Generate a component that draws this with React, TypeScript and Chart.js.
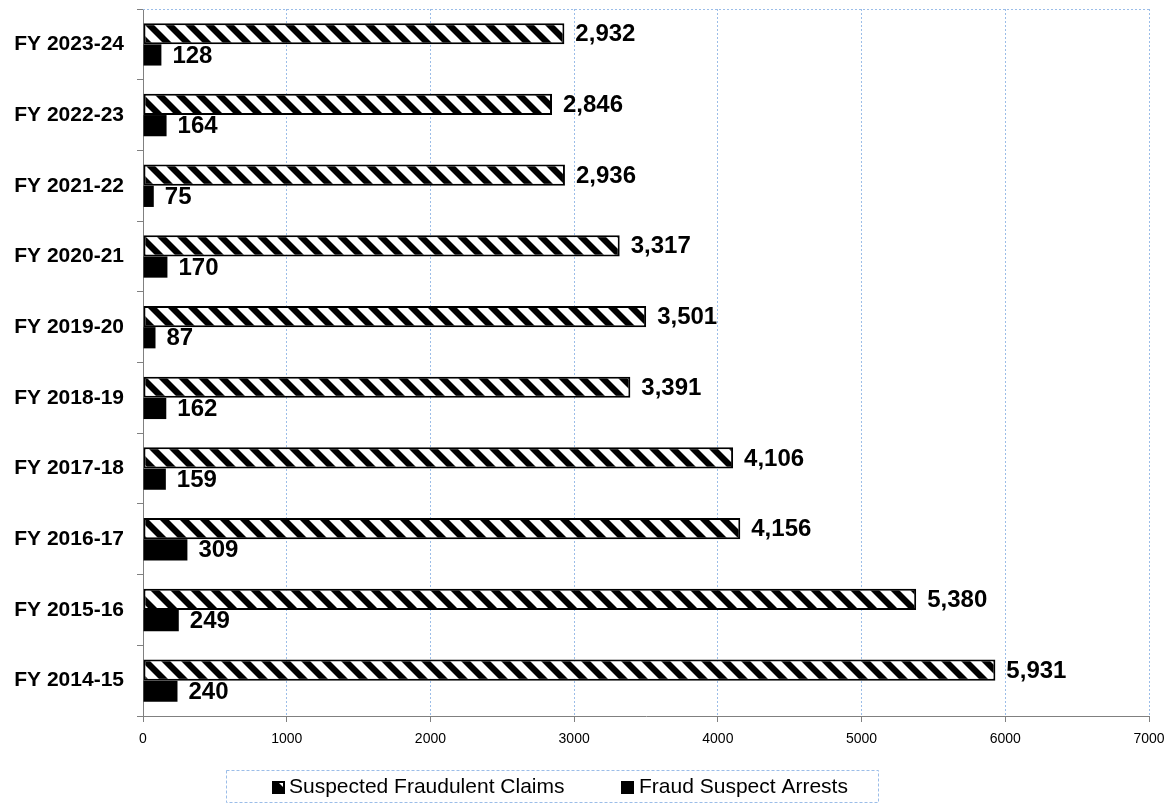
import React, { useEffect, useRef } from 'react';
import { Chart, registerables } from 'chart.js';

Chart.register(...registerables);

const categories = ['FY 2023-24', 'FY 2022-23', 'FY 2021-22', 'FY 2020-21', 'FY 2019-20', 'FY 2018-19', 'FY 2017-18', 'FY 2016-17', 'FY 2015-16', 'FY 2014-15'];
const claims = [2932, 2846, 2936, 3317, 3501, 3391, 4106, 4156, 5380, 5931];
const arrests = [128, 164, 75, 170, 87, 162, 159, 309, 249, 240];
const seriesNames = ['Suspected Fraudulent Claims', 'Fraud Suspect Arrests'];
const xMin = 0;
const xMax = 7000;
const xStep = 1000;

const FONT = "'Liberation Sans', Arial, sans-serif";
const GRID_BLUE = '#9bbde8';

function makeHatch(ctx: CanvasRenderingContext2D) {
  const c = document.createElement('canvas');
  c.width = 20;
  c.height = 20;
  const g = c.getContext('2d')!;
  g.fillStyle = '#ffffff';
  g.fillRect(0, 0, 20, 20);
  g.fillStyle = '#000000';
  for (const k of [-20, 0, 20]) {
    g.beginPath();
    g.moveTo(k, 0);
    g.lineTo(k + 9, 0);
    g.lineTo(k + 29, 20);
    g.lineTo(k + 20, 20);
    g.closePath();
    g.fill();
  }
  return ctx.createPattern(c, 'repeat')!;
}

const valueLabels = {
  id: 'valueLabels',
  afterDatasetsDraw(chart: any) {
    const ctx = chart.ctx;
    ctx.save();
    ctx.font = `bold 24px ${FONT}`;
    ctx.fillStyle = '#000';
    ctx.textBaseline = 'middle';
    ctx.textAlign = 'left';
    chart.data.datasets.forEach((ds: any, di: number) => {
      const meta = chart.getDatasetMeta(di);
      meta.data.forEach((bar: any, i: number) => {
        const v = ds.data[i];
        ctx.fillText(Number(v).toLocaleString('en-US'), bar.x + 11, bar.y + 1);
      });
    });
    ctx.restore();
  },
};

const topBorder = {
  id: 'topBorder',
  beforeDatasetsDraw(chart: any) {
    const { ctx, chartArea } = chart;
    ctx.save();
    ctx.strokeStyle = GRID_BLUE;
    ctx.lineWidth = 1;
    ctx.setLineDash([2, 2]);
    ctx.beginPath();
    ctx.moveTo(chartArea.left, Math.round(chartArea.top) + 0.5);
    ctx.lineTo(chartArea.right, Math.round(chartArea.top) + 0.5);
    ctx.stroke();
    ctx.restore();
  },
};

const boxedLegend = {
  id: 'boxedLegend',
  afterDraw(chart: any) {
    const ctx = chart.ctx;
    ctx.save();
    ctx.strokeStyle = GRID_BLUE;
    ctx.lineWidth = 1;
    ctx.setLineDash([3, 2]);
    ctx.strokeRect(226.5, 770.5, 652, 32);
    ctx.setLineDash([]);
    const cy = 787;
    ctx.fillStyle = '#000';
    ctx.fillRect(272, cy - 6, 13, 13);
    ctx.fillStyle = '#fff';
    ctx.fillRect(274, cy - 4, 9, 9);
    ctx.fillStyle = '#000';
    ctx.beginPath();
    ctx.moveTo(274, cy - 4);
    ctx.lineTo(279, cy - 4);
    ctx.lineTo(283, cy);
    ctx.lineTo(283, cy + 5);
    ctx.lineTo(274, cy + 5);
    ctx.closePath();
    ctx.fill();
    ctx.font = `21px ${FONT}`;
    ctx.textBaseline = 'middle';
    ctx.textAlign = 'left';
    ctx.fillText(seriesNames[0], 289, cy);
    ctx.fillRect(621, cy - 6, 13, 13);
    ctx.fillText(seriesNames[1], 639, cy);
    ctx.restore();
  },
};

export default function App() {
  const ref = useRef<HTMLCanvasElement | null>(null);
  useEffect(() => {
    const canvas = ref.current!;
    const ctx = canvas.getContext('2d')!;
    const hatch = makeHatch(ctx);
    const chart = new Chart(canvas, {
      type: 'bar',
      data: {
        labels: categories,
        datasets: [
          {
            label: seriesNames[0],
            data: claims,
            backgroundColor: hatch as any,
            borderColor: '#000',
            borderWidth: 2,
            borderSkipped: false,
            categoryPercentage: 0.6,
            barPercentage: 1.0,
          },
          {
            label: seriesNames[1],
            data: arrests,
            backgroundColor: '#000',
            borderWidth: 0,
            categoryPercentage: 0.6,
            barPercentage: 1.0,
          },
        ],
      },
      options: {
        indexAxis: 'y',
        animation: false,
        responsive: false,
        maintainAspectRatio: false,
        layout: { padding: { top: 9, right: 24, bottom: 48, left: 0 } },
        plugins: {
          legend: { display: false },
          tooltip: { enabled: false },
        },
        scales: {
          x: {
            min: xMin,
            max: xMax,
            ticks: {
              stepSize: xStep,
              font: { family: FONT, size: 14 },
              color: '#000',
              padding: 9,
              maxRotation: 0,
              callback: (v: any) => String(v),
            },
            grid: { color: GRID_BLUE, tickColor: '#808080', tickLength: 6, lineWidth: 1 },
            border: { color: '#808080', width: 1, dash: [2, 2] },
            afterFit: (s: any) => {
              s.height = 40;
              s.paddingLeft = 0;
              s.paddingRight = 0;
            },
          },
          y: {
            ticks: { font: { family: FONT, size: 21, weight: 'bold' }, color: '#000', padding: 13 },
            grid: { drawOnChartArea: false, tickColor: '#808080', tickLength: 6, offset: true },
            border: { color: '#808080', width: 1 },
            afterFit: (s: any) => {
              s.width = 143;
              s.paddingTop = 0;
              s.paddingBottom = 0;
            },
          },
        },
      } as any,
      plugins: [topBorder, valueLabels, boxedLegend],
    });
    return () => chart.destroy();
  }, []);
  return (
    <div style={{ position: 'fixed', left: 0, top: 0, width: 1173, height: 804, background: '#fff' }}>
      <canvas ref={ref} width={1173} height={804} style={{ display: 'block' }} />
    </div>
  );
}
